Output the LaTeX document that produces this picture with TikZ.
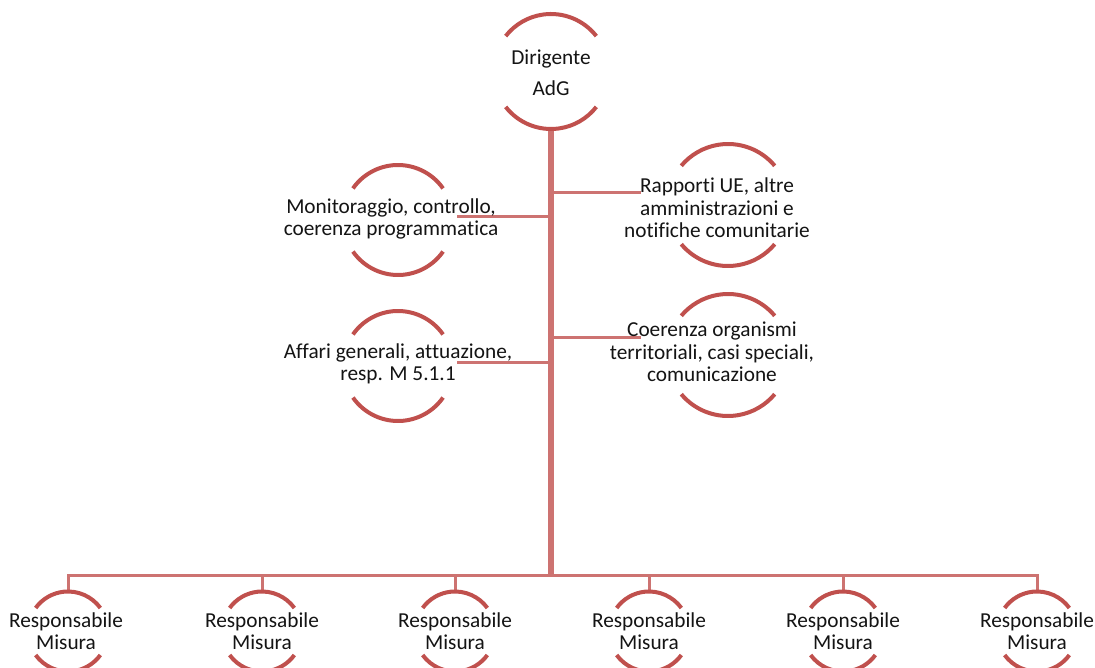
\documentclass[tikz,border=0pt]{standalone}
\usepackage{fontspec}
\setmainfont{Carlito}[Ligatures=NoCommon]
\usetikzlibrary{calc}
\definecolor{ringred}{RGB}{192,80,77}
\definecolor{linkred}{RGB}{205,115,113}

% two open arcs (top and bottom) around a centre: #1 centre, #2 radius, #3 start angle
\newcommand\ringarcs[3]{%
  \draw[ringline] ($(#1)+(#3:#2)$) arc[start angle=#3, end angle=180-#3, radius=#2];
  \draw[ringline] ($(#1)+(180+#3:#2)$) arc[start angle=180+#3, end angle=360-#3, radius=#2];}

\begin{document}
\begin{tikzpicture}[x=1pt,y=-1pt,
  txt/.style={inner sep=0pt, align=center, font=\fontsize{21.3}{22.5}\selectfont, text=black!92},
  toptxt/.style={txt, font=\fontsize{21.3}{31}\selectfont},
  ringline/.style={draw=ringred, line width=4pt},
  trunkline/.style={draw=linkred, line width=6.5pt},
  conn/.style={draw=linkred, line width=3pt}]
\fill[white] (0,0) rectangle (1095,668);
\useasboundingbox (0,0) rectangle (1095,668);

% ring centres
\coordinate (top) at (551,71.5);
\coordinate (l1) at (398,220);
\coordinate (l2) at (398,366);
\coordinate (r1) at (728,205);
\coordinate (r2) at (728,355);
\coordinate (b1) at (68,631.5);
\coordinate (b2) at (262,631.5);
\coordinate (b3) at (455,631.5);
\coordinate (b4) at (649,631.5);
\coordinate (b5) at (843,631.5);
\coordinate (b6) at (1037,631.5);

% trunk and bus
\coordinate (bus) at (551,575);
\draw[trunkline] ([yshift=-57.5pt]top) -- (bus);
\foreach \b in {b1,b2,b3,b4,b5,b6}{
  \draw[conn] (bus) -| ([yshift=40pt]\b);
}

% side branches
\coordinate (l1e) at (457,217);
\coordinate (l2e) at (457,362);
\coordinate (r1e) at (641,193);
\coordinate (r2e) at (641,337);
\foreach \e in {l1e,l2e,r1e,r2e}{
  \draw[conn] (\e -| bus) -- (\e);
}

% rings
\ringarcs{top}{57.5pt}{38}
\ringarcs{l1}{55pt}{35}
\ringarcs{l2}{55pt}{35}
\ringarcs{r1}{61pt}{40}
\ringarcs{r2}{61pt}{40}
\foreach \b in {b1,b2,b3,b4,b5,b6}{
  \ringarcs{\b}{40pt}{36}
}

% labels
\node[toptxt] (ttop) at (551,72.5) {Dirigente\\AdG};
\node[txt] (tl1) at (391,219) {Monitoraggio, controllo,\\coerenza programmatica};
\node[txt] (tl2) at (398,364) {Affari generali, attuazione,\\resp. M 5.1.1};
\node[txt] (tr1) at (717,208) {Rapporti UE, altre\\amministrazioni e\\notifiche comunitarie};
\node[txt] (tr2) at (712,352) {Coerenza organismi\\territoriali, casi speciali,\\comunicazione};
\node[txt] (tb1) at (66,631) {Responsabile\\Misura};
\node[txt] (tb2) at (262,631) {Responsabile\\Misura};
\node[txt] (tb3) at (455,631) {Responsabile\\Misura};
\node[txt] (tb4) at (649,631) {Responsabile\\Misura};
\node[txt] (tb5) at (843,631) {Responsabile\\Misura};
\node[txt] (tb6) at (1037,631) {Responsabile\\Misura};
\end{tikzpicture}
\end{document}
